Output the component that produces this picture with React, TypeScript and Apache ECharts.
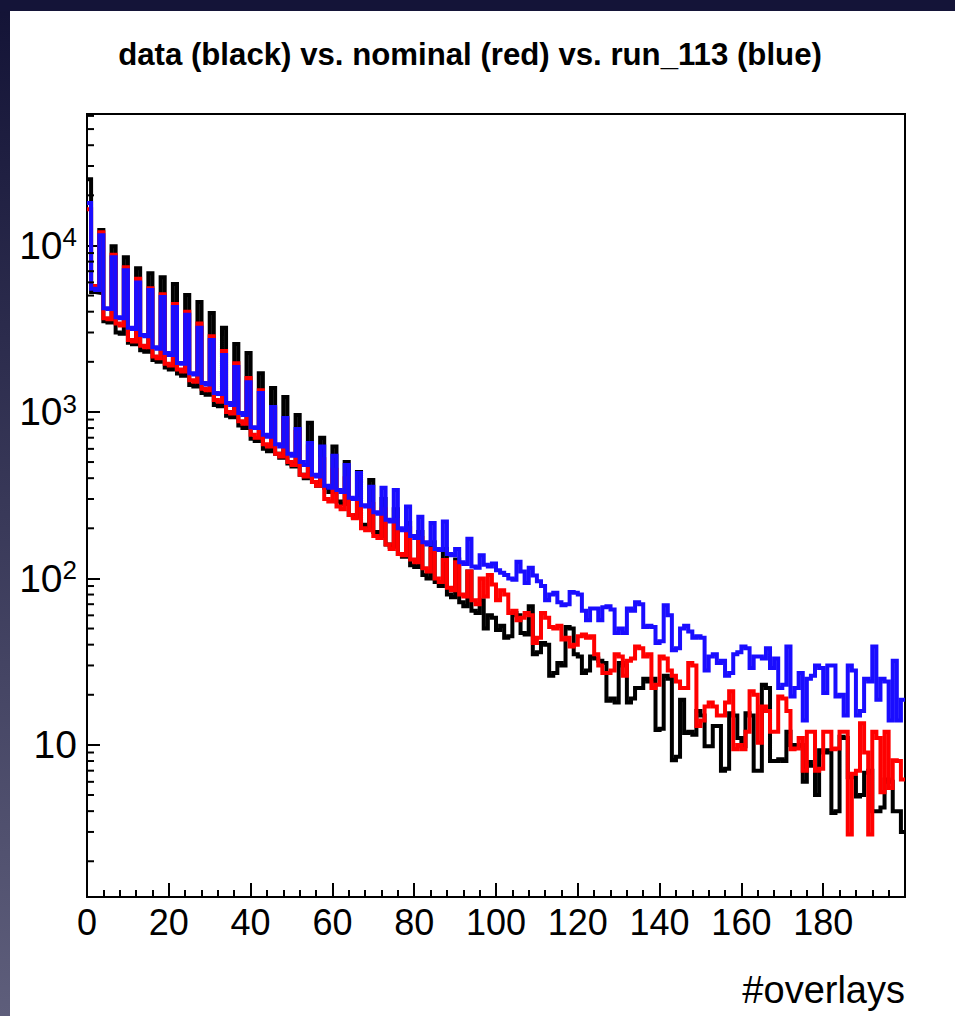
import React, { useEffect, useRef } from "react";
import * as echarts from "echarts";

const TITLE = "data (black) vs. nominal (red) vs. run_113 (blue)";
const X_TITLE = "#overlays";
const X_MIN = 0;
const X_MAX = 200;
const X_STEP = 20;
const Y_MIN = 1.22;
const Y_MAX = 61600;
const Y_DECADES = [1, 10, 100, 1000, 10000];
const Y_MINOR_MULTIPLES = [2, 3, 4, 5, 6, 7, 8, 9];

// data (black)
const dataBlack = [
  25000, 5250, 5200, 12400, 3500, 3450, 9900, 3000, 2950, 8500,
  2600, 2550, 7300, 2350, 2300, 6800, 2050, 2000, 6450, 1850,
  1800, 5870, 1700, 1650, 5040, 1450, 1420, 4580, 1300, 1270,
  3930, 1100, 1080, 3200, 950, 930, 2560, 830, 800, 2260,
  690, 670, 1710, 600, 580, 1390, 560, 530, 1230, 490,
  470, 960, 420, 400, 860, 380, 360, 700, 350, 330,
  620, 290, 280, 500, 240, 235, 435, 210, 205, 390,
  190, 180, 300, 160, 155, 260, 140, 135, 215, 120,
  117, 190, 105, 100, 165, 95, 90, 150, 80, 77,
  130, 72, 68, 110, 64, 62, 74, 50, 60, 58,
  49, 52, 44, 45, 62, 60, 47, 46, 68, 35,
  36, 41, 40, 26, 27, 31, 30, 51, 50, 35,
  34, 27, 28, 34, 33, 32, 31, 18.4, 19, 18,
  31, 30, 18, 19, 22, 22, 25, 24, 25, 12.3,
  12.5, 26, 25, 8.1, 8.5, 18.7, 11.8, 12, 11.5, 16,
  15, 9.8, 9.8, 13, 13, 7, 7.2, 15.5, 15, 11,
  9.8, 15.5, 15, 7, 7, 23, 22, 8, 8, 8.2,
  8, 12, 10, 9.8, 10, 6, 7.9, 7.5, 5, 9.3,
  9, 9.3, 3.9, 4, 11.2, 11, 6.4, 6.4, 4.9, 5,
  6.8, 7, 4, 4, 4.2, 6.2, 6, 4, 4, 3,
];

// nominal (red)
const nominalRed = [
  16500, 5700, 5600, 12000, 3650, 3600, 8800, 3400, 3300, 7400,
  2700, 2650, 6300, 2500, 2450, 5540, 2150, 2100, 5100, 1950,
  1900, 4450, 1800, 1750, 4000, 1550, 1520, 3400, 1380, 1350,
  2850, 1180, 1150, 2320, 1000, 980, 1960, 880, 850, 1600,
  730, 700, 1350, 640, 620, 1050, 560, 540, 900, 500,
  480, 760, 420, 410, 620, 380, 360, 520, 300, 290,
  450, 270, 260, 400, 240, 230, 300, 200, 195, 280,
  180, 175, 260, 160, 150, 224, 140, 138, 200, 130,
  125, 175, 115, 110, 150, 100, 95, 129, 88, 85,
  125, 80, 78, 110, 74, 70, 100, 78, 105, 92,
  74, 85, 80, 62, 64, 56, 58, 62, 60, 41,
  44, 62, 58, 51, 50, 52, 43, 44, 39, 40,
  45, 46, 44, 45, 35, 30, 27, 27, 28, 35,
  34, 26, 32, 33, 39, 38, 34, 35, 22, 23,
  34, 33, 28, 26, 24, 22, 22, 31, 30, 13,
  14, 17, 18, 17, 15, 15, 18, 21, 9.4, 10,
  9.4, 12, 21, 20, 10.3, 17, 16, 12, 12, 19.5,
  19, 16, 9.4, 9.5, 11, 7, 12, 12, 7, 7.2,
  12, 12, 9.4, 9.5, 12, 12, 2.9, 6.7, 7, 13.5,
  9, 2.9, 12, 11, 5.2, 12, 5.5, 8.1, 8, 6.2,
];

// run_113 (blue)
const run113Blue = [
  18000, 5500, 5400, 11500, 4200, 4150, 8500, 3700, 3650, 7100,
  3200, 3150, 6000, 2900, 2850, 5400, 2450, 2400, 4900, 2260,
  2200, 4270, 1970, 1950, 3830, 1710, 1680, 3200, 1490, 1460,
  2700, 1300, 1280, 2200, 1130, 1100, 1860, 985, 960, 1510,
  810, 800, 1300, 730, 710, 1070, 640, 620, 920, 560,
  545, 790, 500, 480, 650, 420, 410, 620, 360, 350,
  545, 340, 330, 480, 305, 300, 430, 275, 270, 355,
  250, 245, 350, 225, 220, 340, 200, 195, 270, 180,
  175, 235, 165, 160, 215, 150, 148, 220, 140, 138,
  150, 125, 122, 173, 118, 116, 138, 121, 118, 123,
  112, 108, 105, 100, 98, 126, 110, 94, 116, 104,
  96, 90, 74, 80, 82, 72, 69, 70, 83, 82,
  80, 64, 56, 66, 66, 56, 67, 68, 65, 47,
  50, 47, 66, 64, 72, 70, 51, 52, 51, 41,
  42, 69, 60, 37, 38, 50, 52, 48, 44, 45,
  44, 28, 34, 35, 31, 32, 26, 27, 35, 36,
  39, 38, 29, 34, 34, 33, 38, 29, 33, 22,
  23, 39, 19.5, 22, 27, 14, 25, 26, 30, 29,
  20.5, 30, 30, 19.5, 20, 15, 30, 28, 15, 16,
  25, 24, 39, 18.7, 25, 24, 14, 32, 14, 18.7,
];

const FONT = "'Liberation Sans', Arial, Helvetica, sans-serif";

// histogram outline points: left edge of each bin, plus the right edge of the last bin
function toSteps(values: number[]): [number, number][] {
  const width = (X_MAX - X_MIN) / values.length;
  const pts: [number, number][] = values.map((v, i) => [X_MIN + i * width, v]);
  pts.push([X_MAX, values[values.length - 1]]);
  return pts;
}

const minorTickValues: number[] = [];
Y_DECADES.forEach((d) =>
  Y_MINOR_MULTIPLES.forEach((m) => {
    const v = d * m;
    if (v > Y_MIN && v < Y_MAX) minorTickValues.push(v);
  })
);

function yLabel(v: number): string {
  const e = Math.round(Math.log10(v));
  if (Math.abs(v - Math.pow(10, e)) > 1e-6 * v) return "";
  if (e === 1) return "{b|10}";
  if (e < 1) return "";
  return `{b|10}{s|${e}}`;
}

export default function App() {
  const ref = useRef<HTMLDivElement>(null);
  useEffect(() => {
    if (!ref.current) return;
    const chart = echarts.init(ref.current, undefined, { renderer: "svg" });
    const lineSeries = (name: string, values: number[], color: string, z: number) => ({
      type: "line",
      name,
      data: toSteps(values),
      step: "end",
      showSymbol: false,
      symbol: "none",
      z,
      lineStyle: { color, width: 4, join: "miter", cap: "butt" },
      emphasis: { disabled: true },
    });
    chart.setOption({
      animation: false,
      backgroundColor: "#ffffff",
      graphic: [
        {
          type: "rect",
          z: 100,
          silent: true,
          shape: { x: 0, y: 0, width: 10, height: 1016 },
          style: {
            fill: new echarts.graphic.LinearGradient(0, 0, 0, 1, [
              { offset: 0, color: "#131336" },
              { offset: 1, color: "#5e5e7b" },
            ]),
          },
        },
        {
          type: "rect",
          z: 100,
          silent: true,
          shape: { x: 0, y: 0, width: 955, height: 11 },
          style: { fill: "#141438" },
        },
        {
          type: "text",
          x: 470,
          y: 54,
          scaleX: 0.975,
          style: {
            text: TITLE,
            fontSize: 32,
            fontWeight: "bold",
            fontFamily: FONT,
            fill: "#000",
            align: "center",
            verticalAlign: "middle",
          },
        },
        {
          type: "text",
          x: 905,
          y: 990,
          style: {
            text: X_TITLE,
            fontSize: 38,
            fontFamily: FONT,
            fill: "#000",
            align: "right",
            verticalAlign: "middle",
          },
        },
      ],
      grid: {
        left: 87,
        top: 114,
        width: 818,
        height: 783,
        show: true,
        borderColor: "#000",
        borderWidth: 2,
        backgroundColor: "transparent",
      },
      xAxis: {
        type: "value",
        min: X_MIN,
        max: X_MAX,
        interval: X_STEP,
        axisLine: { show: true, onZero: false, lineStyle: { color: "#000", width: 2 } },
        axisTick: { show: true, inside: true, length: 14, lineStyle: { color: "#000", width: 2 } },
        minorTick: { show: true, splitNumber: 5, length: 7, lineStyle: { color: "#000", width: 2 } },
        splitLine: { show: false },
        axisLabel: {
          fontSize: 36,
          fontFamily: FONT,
          color: "#000",
          margin: 7,
          showMaxLabel: false,
          formatter: (v: number) => (v >= X_MAX ? "" : String(v)),
        },
      },
      yAxis: {
        type: "log",
        logBase: 10,
        min: Y_MIN,
        max: Y_MAX,
        axisLine: { show: true, lineStyle: { color: "#000", width: 2 } },
        axisTick: { show: true, inside: true, length: 13, lineStyle: { color: "#000", width: 2 } },
        splitLine: { show: false },
        axisLabel: {
          margin: 10,
          formatter: yLabel,
          rich: {
            b: { fontSize: 39, fontFamily: FONT, color: "#000", lineHeight: 42 },
            s: { fontSize: 26, fontFamily: FONT, color: "#000", lineHeight: 22, verticalAlign: "top" },
          },
        },
      },
      series: [
        lineSeries("data", dataBlack, "#000000", 3),
        lineSeries("nominal", nominalRed, "#ff0000", 4),
        lineSeries("run_113", run113Blue, "#1a0dff", 5),
        {
          type: "custom",
          name: "yMinorTicks",
          coordinateSystem: "cartesian2d",
          silent: true,
          z: 6,
          data: minorTickValues.map((v) => [X_MIN, v]),
          renderItem: (_p: any, api: any) => {
            const pt = api.coord([api.value(0), api.value(1)]);
            return {
              type: "line",
              shape: { x1: pt[0], y1: pt[1], x2: pt[0] + 7, y2: pt[1] },
              style: { stroke: "#000", lineWidth: 2 },
            };
          },
        },
      ],
    });
    return () => chart.dispose();
  }, []);
  return (
    <div
      ref={ref}
      style={{ position: "fixed", left: 0, top: 0, width: 955, height: 1016 }}
    />
  );
}
